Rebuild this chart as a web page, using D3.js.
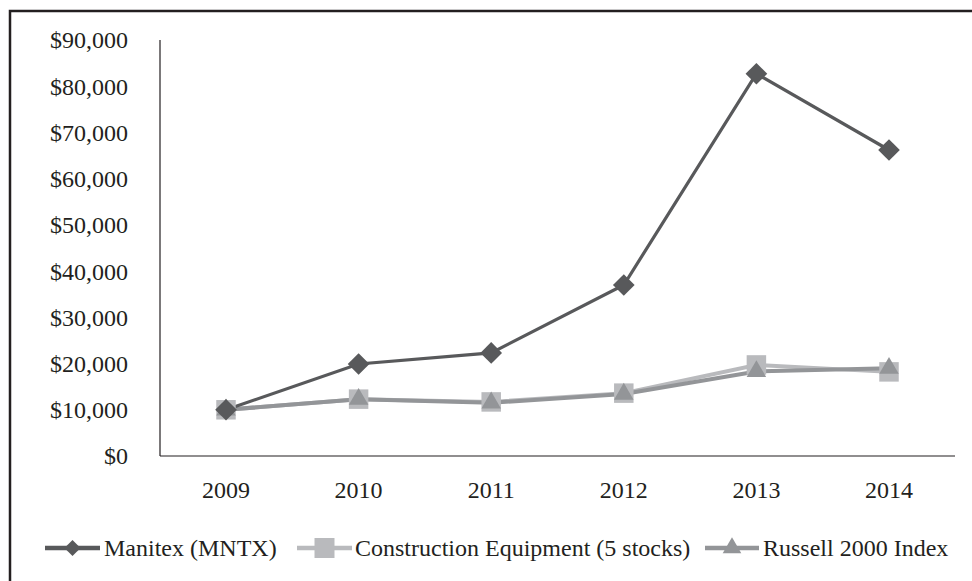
<!DOCTYPE html>
<html><head><meta charset="utf-8">
<script src="https://cdn.jsdelivr.net/npm/d3@7"></script>
<style>body{margin:0;background:#fff;} svg{display:block;font-family:"Liberation Serif","Times New Roman",serif;}</style>
</head><body>
<svg id="c" width="972" height="581"></svg>
<script>
const years = ["2009","2010","2011","2012","2013","2014"];
const manitex = [10000, 19900, 22300, 37000, 82700, 66200];
const construction = [10000, 12300, 11700, 13600, 19700, 18200];
const russell = [10000, 12300, 11500, 13400, 18300, 19000];
const yTicks = [0,10000,20000,30000,40000,50000,60000,70000,80000,90000];
const seriesNames = ["Manitex (MNTX)", "Construction Equipment (5 stocks)", "Russell 2000 Index"];

const svg = d3.select("#c");
// frame (left + top)
svg.append("path").attr("d","M10,590 L10,11 L980,11").attr("fill","none").attr("stroke","#231f20").attr("stroke-width",2.5);

const x = d3.scalePoint().domain(years).range([226, 889]);
const y = d3.scaleLinear().domain([0, 90000]).range([456, 40]);

// axes lines
svg.append("line").attr("x1",160).attr("x2",160).attr("y1",40).attr("y2",456).attr("stroke","#231f20").attr("stroke-width",1.2);
svg.append("line").attr("x1",160).attr("x2",955).attr("y1",456).attr("y2",456).attr("stroke","#231f20").attr("stroke-width",1.2);

const fmt = d => "$" + d3.format(",")(d);
svg.selectAll(".yt").data(yTicks).join("text")
  .attr("x",128).attr("y",d=>y(d)).attr("dy","0.35em").attr("text-anchor","end")
  .attr("font-size",24).attr("fill","#231f20").text(fmt);
svg.selectAll(".xt").data(years).join("text")
  .attr("x",d=>x(d)).attr("y",490).attr("dy","0.35em").attr("text-anchor","middle")
  .attr("font-size",24).attr("fill","#231f20").text(d=>d);

const line = d3.line().x((d,i)=>x(years[i])).y(d=>y(d));
const series = [
  {vals: construction, color:"#b9babd", w:4, sym:d3.symbolSquare, size:380, rot:0},
  {vals: russell, color:"#939598", w:4, sym:d3.symbolTriangle, size:165, rot:0},
  {vals: manitex, color:"#58595b", w:3.2, sym:d3.symbolSquare, size:235, rot:45},
];
series.forEach(s=>{
  svg.append("path").attr("d",line(s.vals)).attr("fill","none").attr("stroke",s.color).attr("stroke-width",s.w);
});
series.forEach(s=>{
  svg.selectAll(null).data(s.vals).join("path")
    .attr("d",d3.symbol(s.sym, s.size))
    .attr("transform",(d,i)=>`translate(${x(years[i])},${y(d)}) rotate(${s.rot})`)
    .attr("fill",s.color);
});

// legend
const leg = [
  {name:seriesNames[0], color:"#58595b", w:4.5, sym:d3.symbolSquare, size:130, rot:45, x0:45, x1:100, tx:104},
  {name:seriesNames[1], color:"#b9babd", w:4.5, sym:d3.symbolSquare, size:400, rot:0, x0:297, x1:352, tx:355},
  {name:seriesNames[2], color:"#939598", w:4.5, sym:d3.symbolTriangle, size:150, rot:0, x0:705, x1:759, tx:763},
];
const ly = 548;
leg.forEach(l=>{
  svg.append("line").attr("x1",l.x0).attr("x2",l.x1).attr("y1",ly).attr("y2",ly).attr("stroke",l.color).attr("stroke-width",l.w);
  svg.append("path").attr("d",d3.symbol(l.sym,l.size)).attr("transform",`translate(${(l.x0+l.x1)/2},${ly}) rotate(${l.rot})`).attr("fill",l.color);
  svg.append("text").attr("x",l.tx).attr("y",ly).attr("dy","0.35em").attr("font-size",24).attr("fill","#231f20").text(l.name);
});
</script>
</body></html>
